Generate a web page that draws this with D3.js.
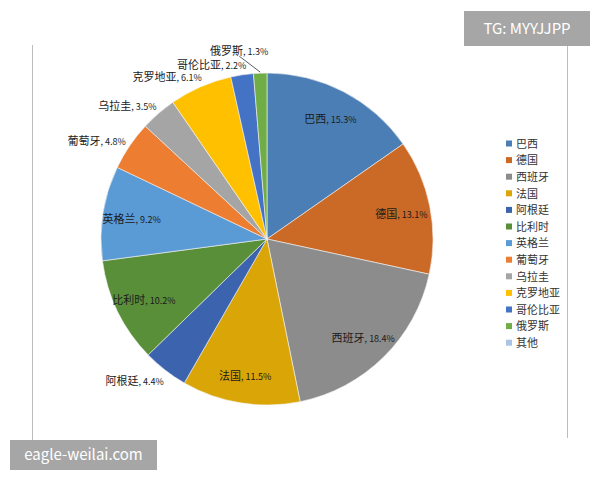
<!DOCTYPE html>
<html>
<head>
<meta charset="utf-8">
<script src="https://cdn.jsdelivr.net/npm/d3@7"></script>
<style>
  body { margin: 0; background: #fff; }
  text { font-family: "Noto Sans CJK SC", "Noto Sans", sans-serif; }
</style>
</head>
<body>
<div id="chart-area"></div>
<script>
// chart data
var countries = ["巴西", "德国", "西班牙", "法国", "阿根廷", "比利时", "英格兰", "葡萄牙", "乌拉圭", "克罗地亚", "哥伦比亚", "俄罗斯", "其他"];
var shares = [15.3, 13.1, 18.4, 11.5, 4.4, 10.2, 9.2, 4.8, 3.5, 6.1, 2.2, 1.3, 0];
var sliceColors = ["#4a7eb4", "#cb6a27", "#8c8c8c", "#d9a507", "#3c63ad", "#5a8f3a",
	"#5b9bd5", "#ed7d31", "#a5a5a5", "#ffc000", "#4472c4", "#70ad47", "#a9c4e4"];

var width = 600, height = 480;
var cx = 267, cy = 239, radius = 166;

var svg = d3.select("#chart-area")
	.append("svg")
	.attr("width", width)
	.attr("height", height);

// frame lines left and right
svg.append("line")
	.attr("x1", 32.5).attr("x2", 32.5).attr("y1", 45).attr("y2", 440)
	.attr("stroke", "#bdbdbd");
svg.append("line")
	.attr("x1", 567.5).attr("x2", 567.5).attr("y1", 40).attr("y2", 438)
	.attr("stroke", "#bdbdbd");

var data = countries.map((c, i) => ({ name: c, value: shares[i], color: sliceColors[i] }));

var pie = d3.pie().sort(null).value(d => d.value);
var arcs = pie(data);

var arc = d3.arc().innerRadius(0).outerRadius(radius);
var labelArc = d3.arc().innerRadius(137).outerRadius(137);
var outArc = d3.arc().innerRadius(178).outerRadius(178);
var edgeArc = d3.arc().innerRadius(radius).outerRadius(radius);
var farArc = d3.arc().innerRadius(190).outerRadius(190);

var g = svg.append("g")
	.attr("transform", "translate(" + cx + "," + cy + ")");

g.selectAll("path")
	.data(arcs.filter(d => d.data.value > 0))
	.enter().append("path")
	.attr("d", arc)
	.attr("fill", d => d.data.color)
	.attr("stroke", "#f4f4f4")
	.attr("stroke-width", 0.6);

function addLabel(sel, d) {
	sel.append("tspan").attr("font-size", "11px").text(d.data.name);
	sel.append("tspan").attr("font-size", "9px").text(", " + d.data.value.toFixed(1) + "%");
}

// labels inside the big slices, outside for the small ones
arcs.filter(d => d.data.value > 0).forEach(d => {
	var t;
	if (d.data.value >= 9) {
		var p = labelArc.centroid(d);
		t = g.append("text")
			.attr("x", p[0]).attr("y", p[1]).attr("dy", "0.35em")
			.attr("text-anchor", "middle")
			.attr("fill", "#1a1a1a");
		addLabel(t, d);
	} else if (d.data.value >= 2) {
		var q = outArc.centroid(d);
		t = g.append("text")
			.attr("x", q[0] + 6).attr("y", q[1]).attr("dy", "0.35em")
			.attr("text-anchor", "end")
			.attr("fill", "#1a1a1a");
		addLabel(t, d);
	} else {
		var e = edgeArc.centroid(d);
		var f = farArc.centroid(d);
		t = g.append("text")
			.attr("x", f[0] + 9).attr("y", f[1]).attr("dy", "0.35em")
			.attr("text-anchor", "end")
			.attr("fill", "#1a1a1a");
		addLabel(t, d);
		g.append("line")
			.attr("x1", e[0]).attr("y1", e[1] - 1)
			.attr("x2", f[0] - 20).attr("y2", f[1] + 7)
			.attr("stroke", "#333").attr("stroke-width", 0.8);
	}
});

// legend
var legend = svg.append("g")
	.attr("transform", "translate(506,144)");

var rows = legend.selectAll("g")
	.data(data)
	.enter().append("g")
	.attr("transform", (d, i) => "translate(0," + (i * 16.6) + ")");

rows.append("rect")
	.attr("x", 0).attr("y", -3.5)
	.attr("width", 6).attr("height", 6)
	.attr("fill", d => d.color);

rows.append("text")
	.attr("x", 10).attr("y", 0).attr("dy", "0.35em")
	.attr("font-size", "11px")
	.attr("fill", "#333")
	.text(d => d.name);

// watermarks
svg.append("rect")
	.attr("x", 464).attr("y", 11).attr("width", 126).attr("height", 35)
	.attr("fill", "#a6a6a6");
svg.append("text")
	.attr("x", 527).attr("y", 29).attr("dy", "0.35em")
	.attr("text-anchor", "middle")
	.attr("font-family", "Roboto, sans-serif")
	.attr("font-size", "15px")
	.attr("fill", "#fff")
	.text("TG: MYYJJPP");

svg.append("rect")
	.attr("x", 10).attr("y", 440).attr("width", 147).attr("height", 30)
	.attr("fill", "#a6a6a6");
svg.append("text")
	.attr("x", 83.5).attr("y", 455).attr("dy", "0.35em")
	.attr("text-anchor", "middle")
	.attr("font-family", "Roboto, sans-serif")
	.attr("font-size", "15px")
	.attr("fill", "#fff")
	.text("eagle-weilai.com");
</script>
</body>
</html>
